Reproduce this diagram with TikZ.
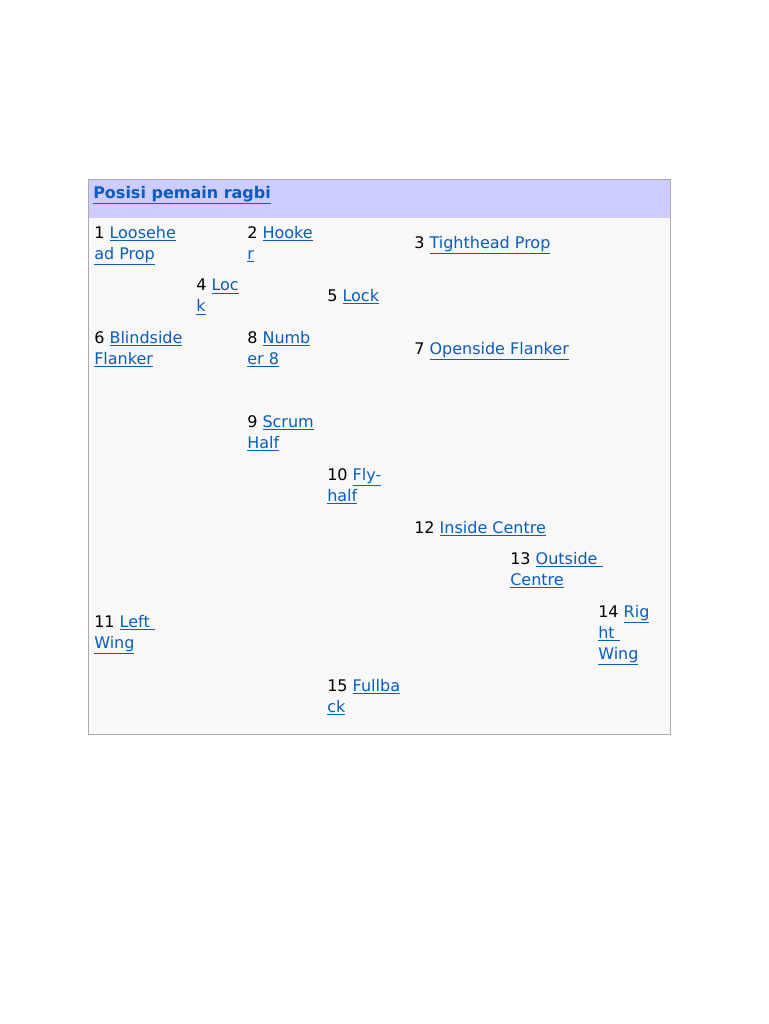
\documentclass[tikz,border=0pt]{standalone}
\usepackage{fontspec}
\setmainfont{DejaVu Sans}
\usetikzlibrary{positioning}
\definecolor{linkblue}{HTML}{0B5CBD}
\definecolor{headfill}{HTML}{CCCCFF}
\definecolor{bodyfill}{HTML}{F8F8F8}
\definecolor{rimgray}{HTML}{AAAAAA}
\newcommand{\lk}[1]{\textcolor{linkblue}{\underline{#1}}}
\tikzset{
  player/.style={anchor=north west, inner sep=0pt, align=left,
    font=\fontsize{12pt}{15.75pt}\selectfont},
  headtext/.style={player, font=\fontsize{12pt}{15.75pt}\selectfont\bfseries}
}
\begin{document}
\begin{tikzpicture}[x=0.75pt, y=-0.75pt]
    \useasboundingbox (0,0) rectangle (768,1024);
    \fill[bodyfill] (88,179) rectangle (670,734);
    \fill[headfill] (88,179) rectangle (670,218);
    \draw[rimgray] (88,179) rectangle (670,734);

    \node[headtext] (head) at (93,186) {\lk{Posisi pemain ragbi}};

    \node[player] (p1)  at (94,226)  {1 \lk{Loosehe}\\\lk{ad Prop}};
    \node[player] (p2)  at (247,226) {2 \lk{Hooke}\\\lk{r}};
    \node[player] (p3)  at (414,236) {3 \lk{Tighthead Prop}};
    \node[player] (p4)  at (196,279) {4 \lk{Loc}\\\lk{k}};
    \node[player] (p5)  at (327,289) {5 \lk{Lock}};
    \node[player] (p6)  at (94,331)  {6 \lk{Blindside}\\\lk{Flanker}};
    \node[player] (p8)  at (247,331) {8 \lk{Numb}\\\lk{er 8}};
    \node[player] (p7)  at (414,342) {7 \lk{Openside Flanker}};
    \node[player] (p9)  at (247,415) {9 \lk{Scrum}\\\lk{Half}};
    \node[player] (p10) at (327,468) {10 \lk{Fly-}\\\lk{half}};
    \node[player] (p12) at (414,521) {12 \lk{Inside Centre}};
    \node[player] (p13) at (510,552) {13 \lk{Outside\ }\\\lk{Centre}};
    \node[player] (p14) at (598,605) {14 \lk{Rig}\\\lk{ht\ }\\\lk{Wing}};
    \node[player] (p11) at (94,615)  {11 \lk{Left\ }\\\lk{Wing}};
    \node[player] (p15) at (327,679) {15 \lk{Fullba}\\\lk{ck}};
\end{tikzpicture}
\end{document}
